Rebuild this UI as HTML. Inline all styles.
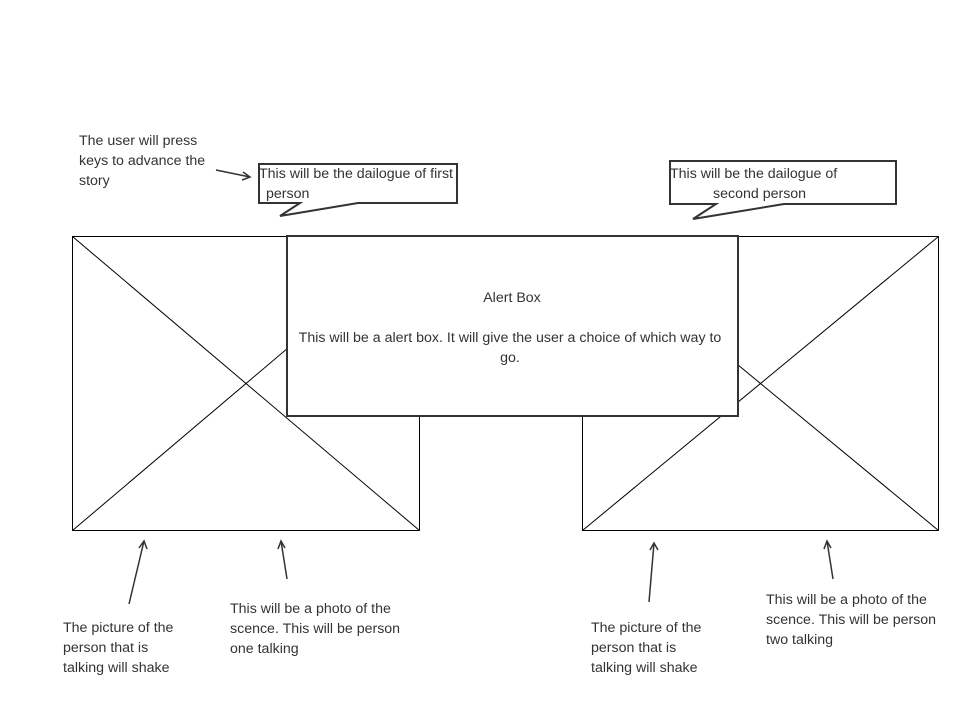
<!DOCTYPE html>
<html><head><style>body{margin:0;background:#fff}svg text{font-family:"Liberation Sans",sans-serif;font-size:14.2px;fill:#333}</style></head><body>
<svg width="956" height="709" xmlns="http://www.w3.org/2000/svg">
<g stroke="#000" stroke-width="1" fill="none">
<rect x="72.5" y="236.5" width="347" height="294"/>
<line x1="72.5" y1="236.5" x2="419.5" y2="530.5"/><line x1="72.5" y1="530.5" x2="419.5" y2="236.5"/>
<rect x="582.5" y="236.5" width="356" height="294"/>
<line x1="582.5" y1="236.5" x2="938.5" y2="530.5"/><line x1="582.5" y1="530.5" x2="938.5" y2="236.5"/>
</g>
<rect x="287" y="236" width="451" height="180" fill="#fff" stroke="#333" stroke-width="2"/>
<g stroke="#333" stroke-width="2" fill="#fff">
<path d="M259,164 H457 V203 H358 L280,216 L300,203 H259 Z"/>
<path d="M670,161 H896 V204 H784 L693,219 L716,204 H670 Z"/>
</g>
<g stroke="#333" stroke-width="1.5" fill="none">
<line x1="216" y1="170" x2="250" y2="177"/><path d="M243,172 L250,177 L242,180"/>
<line x1="129" y1="604" x2="144" y2="541"/><path d="M139,548 L144,541 L147,549"/>
<line x1="287" y1="579" x2="281" y2="541"/><path d="M278,549 L281,541 L285,548"/>
<line x1="649" y1="602" x2="654" y2="543"/><path d="M650,550 L654,543 L658,550"/>
<line x1="833" y1="579" x2="827" y2="541"/><path d="M824,549 L827,541 L831,548"/>
</g>
<text x="79" y="145">The user will press</text><text x="79" y="165">keys to advance the</text><text x="79" y="185">story</text>
<text x="259" y="178">This will be the dailogue of first</text><text x="266" y="198">person</text>
<text x="670" y="178">This will be the dailogue of</text><text x="713" y="198">second person</text>
<text x="512" y="302" text-anchor="middle">Alert Box</text>
<text x="510" y="342" text-anchor="middle">This will be a alert box. It will give the user a choice of which way to</text>
<text x="510" y="362" text-anchor="middle">go.</text>
<text x="63" y="632">The picture of the</text><text x="63" y="652">person that is</text><text x="63" y="672">talking will shake</text>
<text x="230" y="613">This will be a photo of the</text><text x="230" y="633">scence. This will be person</text><text x="230" y="653">one talking</text>
<text x="591" y="632">The picture of the</text><text x="591" y="652">person that is</text><text x="591" y="672">talking will shake</text>
<text x="766" y="604">This will be a photo of the</text><text x="766" y="624">scence. This will be person</text><text x="766" y="644">two talking</text>
</svg>
</body></html>
